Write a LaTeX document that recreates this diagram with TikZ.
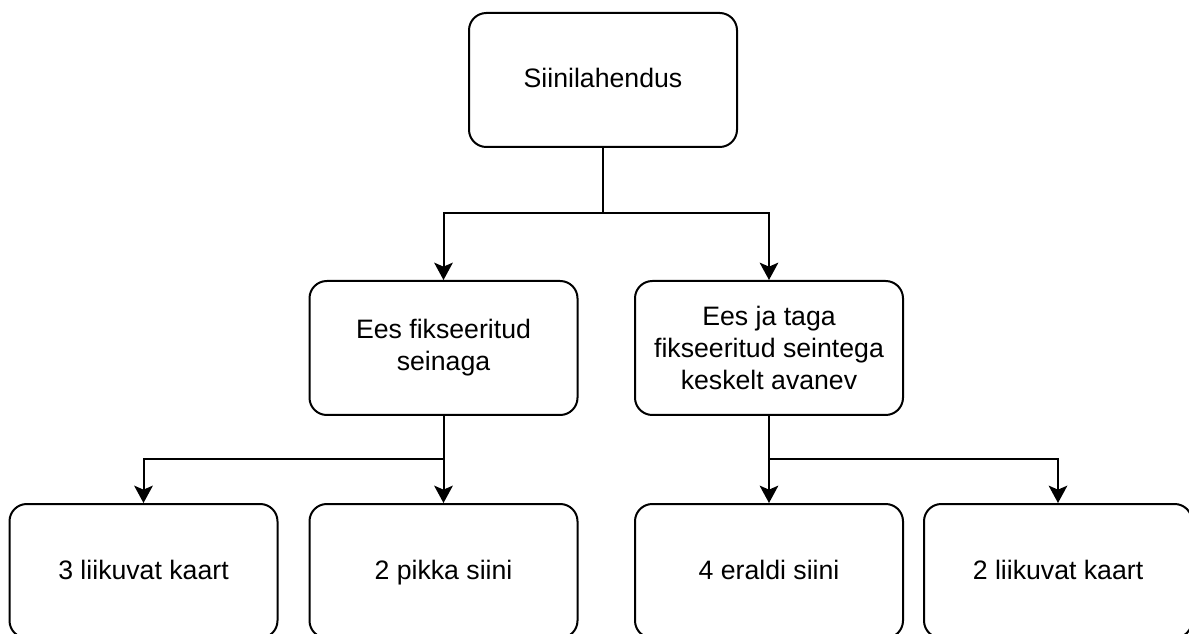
\documentclass[tikz,border=0pt]{standalone}
\usepackage{fontspec}
\setmainfont{Liberation Sans}
\usetikzlibrary{arrows.meta}
\newcommand\boxstrut{\rule[-5pt]{0pt}{22pt}}
\begin{document}
\begin{tikzpicture}[x=0.75pt,y=-0.75pt,
  box/.style={draw=black, line width=1.5pt, rounded corners=13pt, rectangle,
    minimum width=268*0.75pt, minimum height=134*0.75pt, align=center,
    font=\fontsize{20pt}{24pt}\selectfont, inner sep=0pt},
  conn/.style={draw=black, line width=1.5pt},
  arr/.style={conn, -{Stealth[length=13pt, width=14pt, inset=3pt]}}]
\clip (0,0) rectangle (1189,634);
\node[box] (top) at (603,80) {\boxstrut Siinilahendus};
\node[box] (ml) at (443.5,348) {Ees fikseeritud\\seinaga};
\node[box] (mr) at (769,348) {Ees ja taga\\fikseeritud seintega\\keskelt avanev};
\node[box] (b1) at (143.5,571) {\boxstrut 3 liikuvat kaart};
\node[box] (b2) at (443.5,571) {\boxstrut 2 pikka siini};
\node[box] (b3) at (769,571) {\boxstrut 4 eraldi siini};
\node[box] (b4) at (1058,571) {\boxstrut 2 liikuvat kaart};
\coordinate (j1) at (603,213);
\coordinate (j2) at (443.5,459);
\coordinate (j3) at (769,459);
\draw[conn] (top.south) -- (j1);
\draw[arr] (j1) -| (ml.north);
\draw[arr] (j1) -| (mr.north);
\draw[arr] (ml.south) -- (b2.north);
\draw[arr] (j2) -| (b1.north);
\draw[arr] (mr.south) -- (b3.north);
\draw[arr] (j3) -| (b4.north);
\end{tikzpicture}
\end{document}
